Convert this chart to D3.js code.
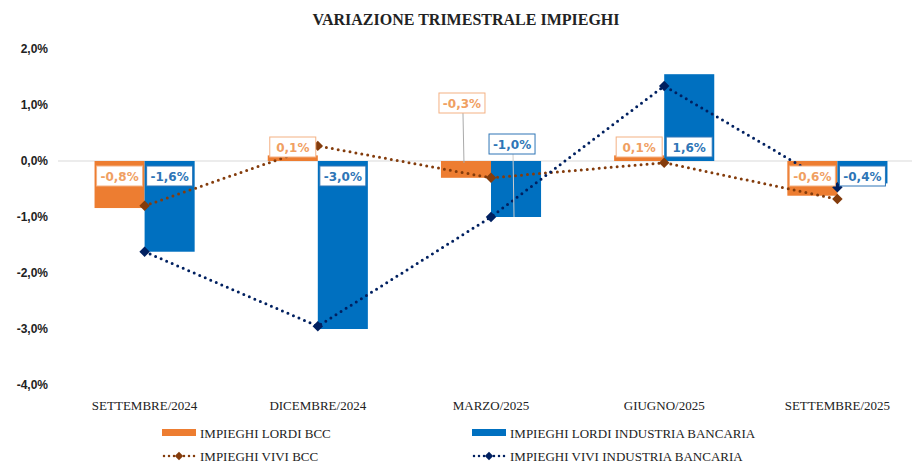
<!DOCTYPE html>
<html>
<head>
<meta charset="utf-8">
<script src="https://cdn.jsdelivr.net/npm/d3@7"></script>
<style>
  body { margin: 0; background: #fff; }
  svg { display: block; }
</style>
</head>
<body>
<div id="chart"></div>
<script>
// data
var categories = ["SETTEMBRE/2024", "DICEMBRE/2024", "MARZO/2025", "GIUGNO/2025", "SETTEMBRE/2025"]
var lordiBcc = [-0.84, 0.1, -0.3, 0.1, -0.62]
var lordiInd = [-1.62, -3.0, -1.0, 1.55, -0.4]
var viviBcc = [-0.8, 0.27, -0.3, -0.03, -0.68]
var viviInd = [-1.62, -2.95, -1.0, 1.34, -0.47]
var labelsBcc = ["-0,8%", "0,1%", "-0,3%", "0,1%", "-0,6%"]
var labelsInd = ["-1,6%", "-3,0%", "-1,0%", "1,6%", "-0,4%"]
var yTicks = [2, 1, 0, -1, -2, -3, -4]

var W = 912, H = 464
var svg = d3.select("#chart").append("svg").attr("width", W).attr("height", H)

var orange = "#ED7D31", blue = "#0070C0", brown = "#843C0C", navy = "#002060"

svg.append("text")
  .attr("x", 466).attr("y", 25)
  .attr("text-anchor", "middle")
  .style("font-family", "Liberation Serif").style("font-weight", "bold")
  .style("font-size", "16px").attr("fill", "#222")
  .text("VARIAZIONE TRIMESTRALE IMPIEGHI")

var y = d3.scaleLinear().domain([-4, 2]).range([385, 49])
var x = d3.scaleBand().domain(categories).range([58, 924])
var xs = d3.scaleBand().domain(["bcc", "ind"]).range([0, x.bandwidth()]).paddingOuter(0.73)

// y tick labels
svg.append("g").selectAll("text").data(yTicks).enter().append("text")
  .attr("x", 48).attr("y", function(d){ return y(d) + 4 })
  .attr("text-anchor", "end")
  .style("font-family", "Liberation Sans").style("font-weight", "bold").style("font-size", "12px")
  .attr("fill", "#222")
  .text(function(d){ return d3.format(".1f")(d).replace("−", "-").replace(".", ",") + "%" })

// zero line
svg.append("line").attr("x1", 58).attr("x2", 912).attr("y1", y(0)).attr("y2", y(0))
  .attr("stroke", "#d9d9d9").attr("stroke-width", 1)

// category labels
svg.append("g").selectAll("text").data(categories).enter().append("text")
  .attr("x", function(d){ return x(d) + x.bandwidth()/2 }).attr("y", 410)
  .attr("text-anchor", "middle")
  .style("font-family", "Liberation Serif").style("font-size", "13px").attr("fill", "#222")
  .text(function(d){ return d })

// bars
function bars(vals, key, col){
  svg.append("g").selectAll("rect").data(vals).enter().append("rect")
    .attr("x", function(d,i){ return x(categories[i]) + xs(key) })
    .attr("width", xs.bandwidth())
    .attr("y", function(d){ return y(Math.max(0, d)) })
    .attr("height", function(d){ return Math.abs(y(d) - y(0)) })
    .attr("fill", col)
}
bars(lordiBcc, "bcc", orange)
bars(lordiInd, "ind", blue)

// dotted lines with diamonds
function dotted(vals, col){
  var cx = function(d,i){ return x(categories[i]) + x.bandwidth()/2 }
  svg.append("path").datum(vals)
    .attr("fill", "none").attr("stroke", col).attr("stroke-width", 3)
    .attr("stroke-linecap", "round").attr("stroke-dasharray", "0 6")
    .attr("d", d3.line().x(cx).y(function(d){ return y(d) }))
  svg.append("g").selectAll("path").data(vals).enter().append("path")
    .attr("d", d3.symbol().type(d3.symbolDiamond2).size(70))
    .attr("transform", function(d,i){ return "translate(" + cx(d,i) + "," + y(d) + ")" })
    .attr("fill", col)
}
dotted(viviBcc, brown)
dotted(viviInd, navy)

// data labels (march ones moved up with leader lines)
var moveBcc = [null, null, 103, null, null]
var moveInd = [null, null, 144, null, null]
function labels(vals, texts, key, tcol, bcol, moved){
  var g = svg.append("g")
  vals.forEach(function(v, i){
    var bx = x(categories[i]) + xs(key) + xs.bandwidth()/2
    var cy = v >= 0 ? y(0) - 14 : y(0) + 15
    if (moved[i] != null){
      cy = moved[i]
      g.append("line").attr("x1", bx - 3).attr("x2", bx - 2)
        .attr("y1", cy + 10).attr("y2", key == "bcc" ? y(0) + 2 : y(v))
        .attr("stroke", key == "bcc" ? "#aaa" : "#ccc").attr("stroke-width", 1)
      bx = bx - 4
    }
    g.append("rect").attr("x", bx - 23).attr("y", cy - 10).attr("width", 46).attr("height", 20)
      .attr("fill", "#fff").attr("stroke", bcol).attr("stroke-width", 1)
    g.append("text").attr("x", bx).attr("y", cy + 5).attr("text-anchor", "middle")
      .style("font-family", "DejaVu Sans").style("font-weight", "bold").style("font-size", "12px")
      .attr("fill", tcol).text(texts[i])
  })
}
labels(lordiBcc, labelsBcc, "bcc", "#F0A062", "#F4B183", moveBcc)
labels(lordiInd, labelsInd, "ind", "#2E75B6", "#2E75B6", moveInd)

// legend
var legend = [
  {name: "IMPIEGHI LORDI BCC", col: orange, type: "bar", lx: 162, ly: 433},
  {name: "IMPIEGHI LORDI INDUSTRIA BANCARIA", col: blue, type: "bar", lx: 472, ly: 433},
  {name: "IMPIEGHI VIVI BCC", col: brown, type: "line", lx: 162, ly: 456},
  {name: "IMPIEGHI VIVI INDUSTRIA BANCARIA", col: navy, type: "line", lx: 472, ly: 456}
]
legend.forEach(function(l){
  if (l.type == "bar"){
    svg.append("rect").attr("x", l.lx).attr("y", l.ly - 4).attr("width", 34).attr("height", 7).attr("fill", l.col)
  } else {
    svg.append("line").attr("x1", l.lx + 2).attr("x2", l.lx + 34).attr("y1", l.ly).attr("y2", l.ly)
      .attr("stroke", l.col).attr("stroke-width", 2.5).attr("stroke-linecap", "round").attr("stroke-dasharray", "0 5")
    svg.append("path").attr("d", d3.symbol().type(d3.symbolDiamond2).size(45))
      .attr("transform", "translate(" + (l.lx + 17) + "," + l.ly + ")").attr("fill", l.col)
  }
  svg.append("text").attr("x", l.lx + 38).attr("y", l.ly + 5)
    .style("font-family", "Liberation Serif").style("font-size", "13px").attr("fill", "#222")
    .text(l.name)
})
</script>
</body>
</html>
